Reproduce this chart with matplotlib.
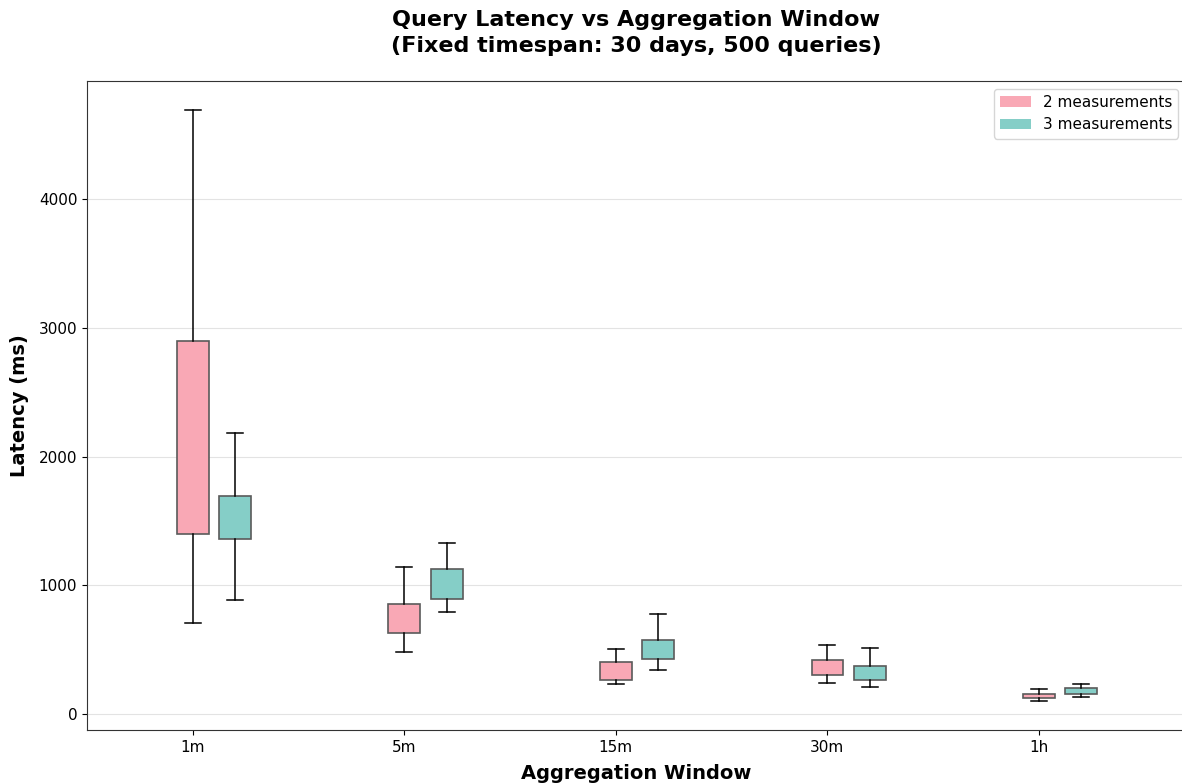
import numpy as np
import matplotlib
matplotlib.use('Agg')
import matplotlib.pyplot as plt
from matplotlib.patches import Patch

windows = ['1m', '5m', '15m', '30m', '1h']
labels = ['2 measurements', '3 measurements']
colors = ['#F9A8B5', '#85CEC7']

# whisker low, q1, q3, whisker high (ms)
m2_low = [705, 481, 233, 240, 103]
m2_q1 = [1395, 628, 266, 302, 122]
m2_q3 = [2899, 853, 405, 421, 157]
m2_high = [4690, 1140, 504, 535, 194]

m3_low = [884, 791, 343, 207, 134]
m3_q1 = [1357, 891, 426, 261, 157]
m3_q3 = [1690, 1124, 571, 370, 199]
m3_high = [2186, 1326, 773, 512, 230]

series = [(m2_low, m2_q1, m2_q3, m2_high), (m3_low, m3_q1, m3_q3, m3_high)]
offsets = [0.0, 0.2]

fig = plt.figure(figsize=(11.82, 7.84), dpi=100)
ax = fig.add_axes([87/1182, 1 - 730/784, (1186 - 87)/1182, (730 - 81)/784])

x = np.arange(len(windows))
for k, (lo, q1, q3, hi) in enumerate(series):
    stats = []
    for i in range(len(windows)):
        stats.append(dict(whislo=lo[i], q1=q1[i], med=(q1[i] + q3[i]) / 2,
                          q3=q3[i], whishi=hi[i], fliers=[]))
    ax.bxp(stats, positions=x + offsets[k], widths=0.15, patch_artist=True,
           showfliers=False, manage_ticks=False,
           boxprops=dict(facecolor=colors[k], edgecolor='#5a5a5a', linewidth=1.2),
           whiskerprops=dict(color='black', linewidth=1.1),
           capprops=dict(color='black', linewidth=1.1),
           medianprops=dict(visible=False))

ax.set_xticks(x)
ax.set_xticklabels(windows, fontsize=11)
ax.set_xlim(-0.5, 4.695)
ax.set_ylim(-126, 4919)
ax.set_yticks([0, 1000, 2000, 3000, 4000])
ax.tick_params(axis='y', labelsize=11)
ax.yaxis.grid(True, color='#e3e3e3', linewidth=0.8)
ax.set_axisbelow(True)
for s in ax.spines.values():
    s.set_color('#333333')

ax.set_xlabel('Aggregation Window', fontsize=14, fontweight='bold', labelpad=7)
ax.set_ylabel('Latency (ms)', fontsize=14, fontweight='bold', labelpad=7)
ax.set_title('Query Latency vs Aggregation Window\n(Fixed timespan: 30 days, 500 queries)',
             fontsize=16, fontweight='bold', pad=21, linespacing=1.35)

handles = [Patch(facecolor=c, label=l) for c, l in zip(colors, labels)]
ax.legend(handles=handles, loc='upper right', fontsize=11)

fig.savefig('out.png', dpi=100)
